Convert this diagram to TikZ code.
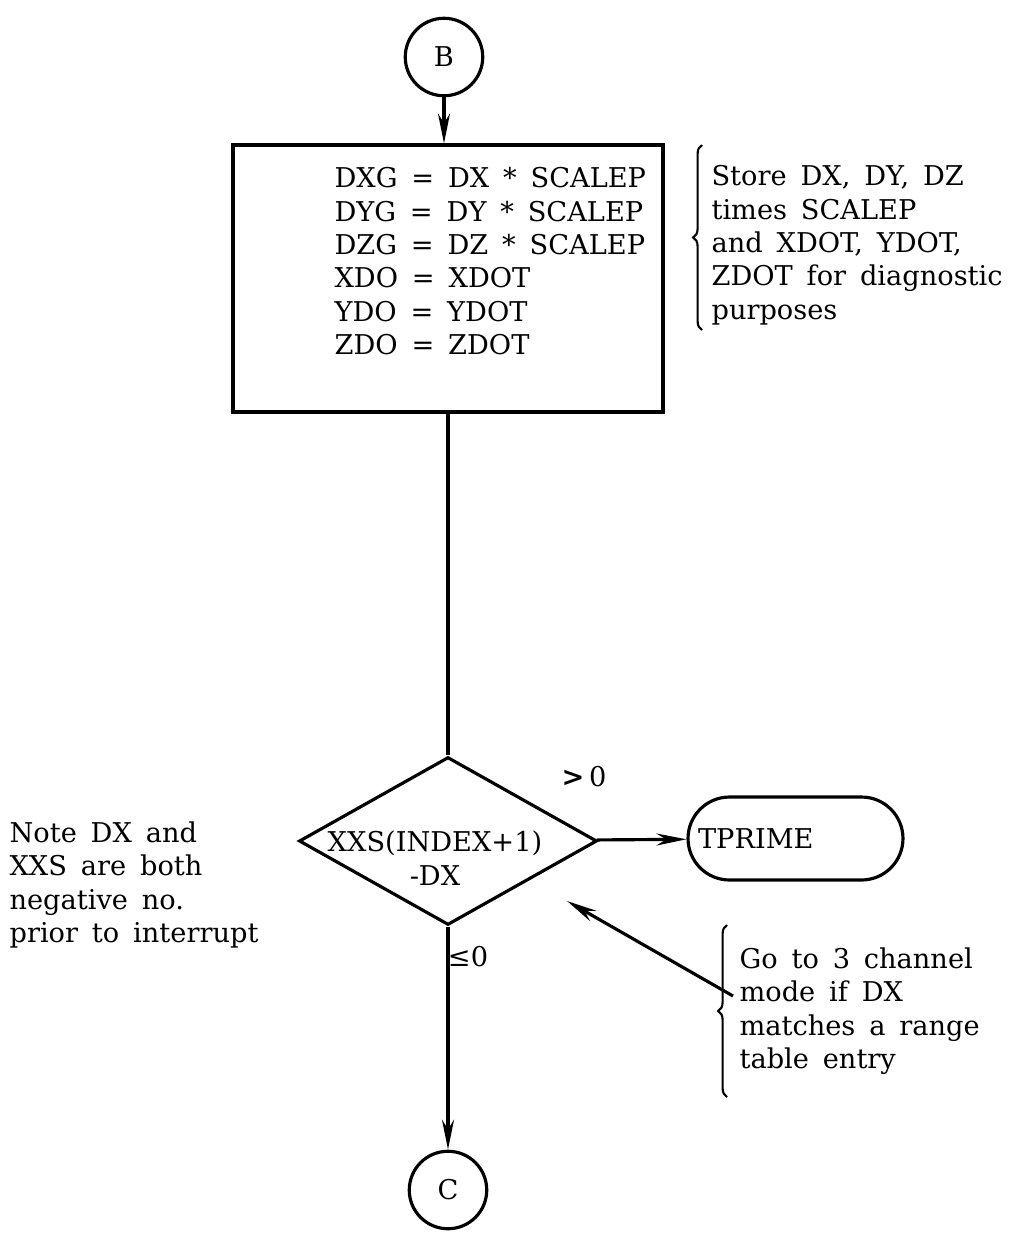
\documentclass[tikz,border=0pt]{standalone}
\usepackage{fontspec}
\setmainfont{DejaVu Serif}[WordSpace=1.6]
\usepackage{amssymb}
\usepackage{tikz}
\usetikzlibrary{shapes.geometric,arrows.meta,decorations.pathreplacing}

\begin{document}
\begin{tikzpicture}[x=0.02cm,y=-0.02cm,line width=1.8pt,
        every node/.style={font=\fontsize{15.5}{19}\selectfont},
        >={Stealth[length=0.6cm,width=0.24cm]},
        conn/.style={circle,draw,minimum size=1.55cm,inner sep=0pt},
        txt/.style={anchor=north west,align=left,inner sep=0pt},
        brace/.style={decorate,decoration={brace,amplitude=5pt},line width=1.2pt}]
        \useasboundingbox (0,0) rectangle (1018,1235);
        \node[conn] (B) at (444,57) {B};
        \node[draw,minimum width=8.6cm,minimum height=5.34cm] (store) at (448,278.5) {};
        \node[txt] (storetxt) at (333,166) {DXG = DX * SCALEP\\DYG = DY * SCALEP\\DZG = DZ * SCALEP\\XDO = XDOT\\YDO = YDOT\\ZDO = ZDOT};
        \node[diamond,draw,minimum width=5.96cm,minimum height=3.36cm,inner sep=0pt] (test) at (448,841) {};
        \node[align=center,inner sep=0pt] (testtxt) at (435,858) {XXS(INDEX+1)\\-DX};
        \node[draw,rounded corners=0.83cm,minimum width=4.3cm,minimum height=1.66cm,
            text width=3.9cm,inner sep=0.2cm,align=left] (tprime) at (795.5,838.5) {TPRIME};
        \node[conn] (C) at (448,1190) {C};
        \draw[->] (B.south) -- (B.south |- store.north);
        \draw (store) -- (test);
        \draw[->] (test) -- (tprime);
        \draw[->] (test) -- (C);
        \node (gt) at (584,777) {\textbf{>}\,0};
        \node (le) at (468,957) {≤0};
        \coordinate (ptrtail) at (733,996);
        \coordinate (ptrtip) at (567,901);
        \draw[->] (ptrtail) -- (ptrtip);
        \node[txt] (storenote) at (710,164) {Store DX, DY, DZ\\times SCALEP\\and XDOT, YDOT,\\ZDOT for diagnostic\\purposes};
        \draw[brace] (702,330) -- (702,145);
        \node[txt] (signnote) at (8,820) {Note DX and\\XXS are both\\negative no.\\prior to interrupt};
        \node[txt] (modenote) at (738,946) {Go to 3 channel\\mode if DX\\matches a range\\table entry};
        \draw[brace] (727,1097) -- (727,925);
    \end{tikzpicture}
\end{document}
